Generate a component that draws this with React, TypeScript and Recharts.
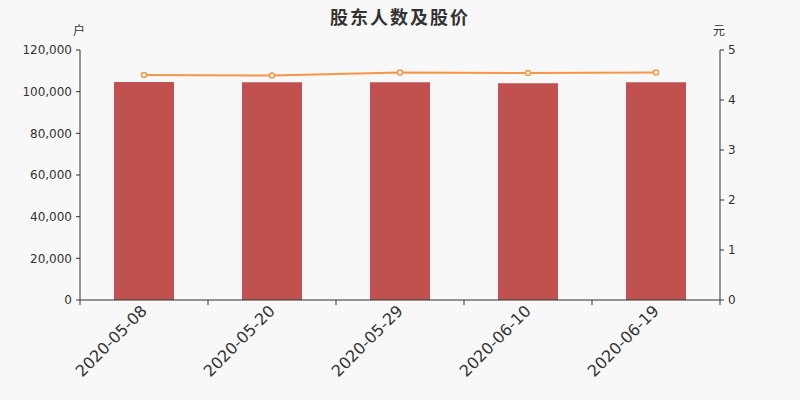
import React from 'react';
import { ComposedChart, Bar, Line, XAxis, YAxis } from 'recharts';

const categories = ['2020-05-08', '2020-05-20', '2020-05-29', '2020-06-10', '2020-06-19'];
const holders = [104600, 104550, 104550, 104000, 104500];
const prices = [4.5, 4.49, 4.55, 4.54, 4.55];
const leftTicks = [0, 20000, 40000, 60000, 80000, 100000, 120000];
const rightTicks = [0, 1, 2, 3, 4, 5];
const boundaryTicks = [0, 1, 2, 3, 4, 5];

const data = categories.map((c, i) => ({ date: c, holders: holders[i], price: prices[i], slot: i }));

const FONT = '"DejaVu Sans", "Noto Sans CJK SC", sans-serif';
const TEXT = '#333';

const fmt = (v: number) => v.toLocaleString('en-US');

const DateTick = (props: any) => {
  const { x, y, payload } = props;
  return (
    <g transform={`translate(${x},${y})`}>
      <text
        transform="rotate(-45)"
        textAnchor="end"
        dy="0.35em"
        fontSize={16}
        fill={TEXT}
        fontFamily={FONT}
      >
        {payload.value}
      </text>
    </g>
  );
};

const EmptyTick = () => <g />;

const Dot = (props: any) => {
  const { cx, cy } = props;
  if (cx == null || cy == null) return null;
  return <circle cx={cx} cy={cy} r={2.5} fill="#fff" stroke="#f79646" strokeWidth={1.5} />;
};

export default function App() {
  return (
    <div style={{ position: 'absolute', left: 0, top: 0, width: 800, height: 400, background: '#f8f8f8', fontFamily: FONT }}>
      <ComposedChart width={800} height={400} data={data} margin={{ top: 50, right: 0, bottom: 0, left: 0 }}>
        <XAxis
          xAxisId="b"
          dataKey="date"
          height={99}
          interval={0}
          axisLine={false}
          tickLine={false}
          tickSize={0}
          tickMargin={7}
          tick={<DateTick />}
        />
        <XAxis
          xAxisId="a"
          type="number"
          dataKey="slot"
          domain={[0, 5]}
          allowDataOverflow
          ticks={boundaryTicks}
          interval={0}
          height={1}
          axisLine={{ stroke: TEXT }}
          tick={<EmptyTick />}
          tickSize={5}
          tickLine={{ stroke: TEXT }}
        />
        <YAxis
          yAxisId="left"
          orientation="left"
          width={80}
          domain={[0, 120000]}
          ticks={leftTicks}
          interval={0}
          tickFormatter={fmt}
          axisLine={{ stroke: TEXT }}
          tickLine={{ stroke: TEXT }}
          tickSize={4}
          tickMargin={4}
          tick={{ fontSize: 12, fill: TEXT, fontFamily: FONT }}
        />
        <YAxis
          yAxisId="right"
          orientation="right"
          width={80}
          domain={[0, 5]}
          ticks={rightTicks}
          interval={0}
          axisLine={{ stroke: TEXT }}
          tickLine={{ stroke: TEXT }}
          tickSize={4}
          tickMargin={4}
          tick={{ fontSize: 12, fill: TEXT, fontFamily: FONT }}
        />
        <Bar
          xAxisId="b"
          yAxisId="left"
          dataKey="holders"
          fill="#c0504d"
          barSize={60}
          isAnimationActive={false}
        />
        <Line
          xAxisId="b"
          yAxisId="right"
          dataKey="price"
          type="linear"
          stroke="#f79646"
          strokeWidth={2}
          dot={<Dot />}
          activeDot={false}
          isAnimationActive={false}
        />
      </ComposedChart>
      <div style={{ position: 'absolute', left: 0, top: 3, width: 800, textAlign: 'center', fontSize: 18, fontWeight: 'bold', color: TEXT, letterSpacing: 2 }}>
        股东人数及股价
      </div>
      <div style={{ position: 'absolute', left: 73, top: 21, fontSize: 12, color: TEXT }}>户</div>
      <div style={{ position: 'absolute', left: 713, top: 21, fontSize: 12, color: TEXT }}>元</div>
    </div>
  );
}
